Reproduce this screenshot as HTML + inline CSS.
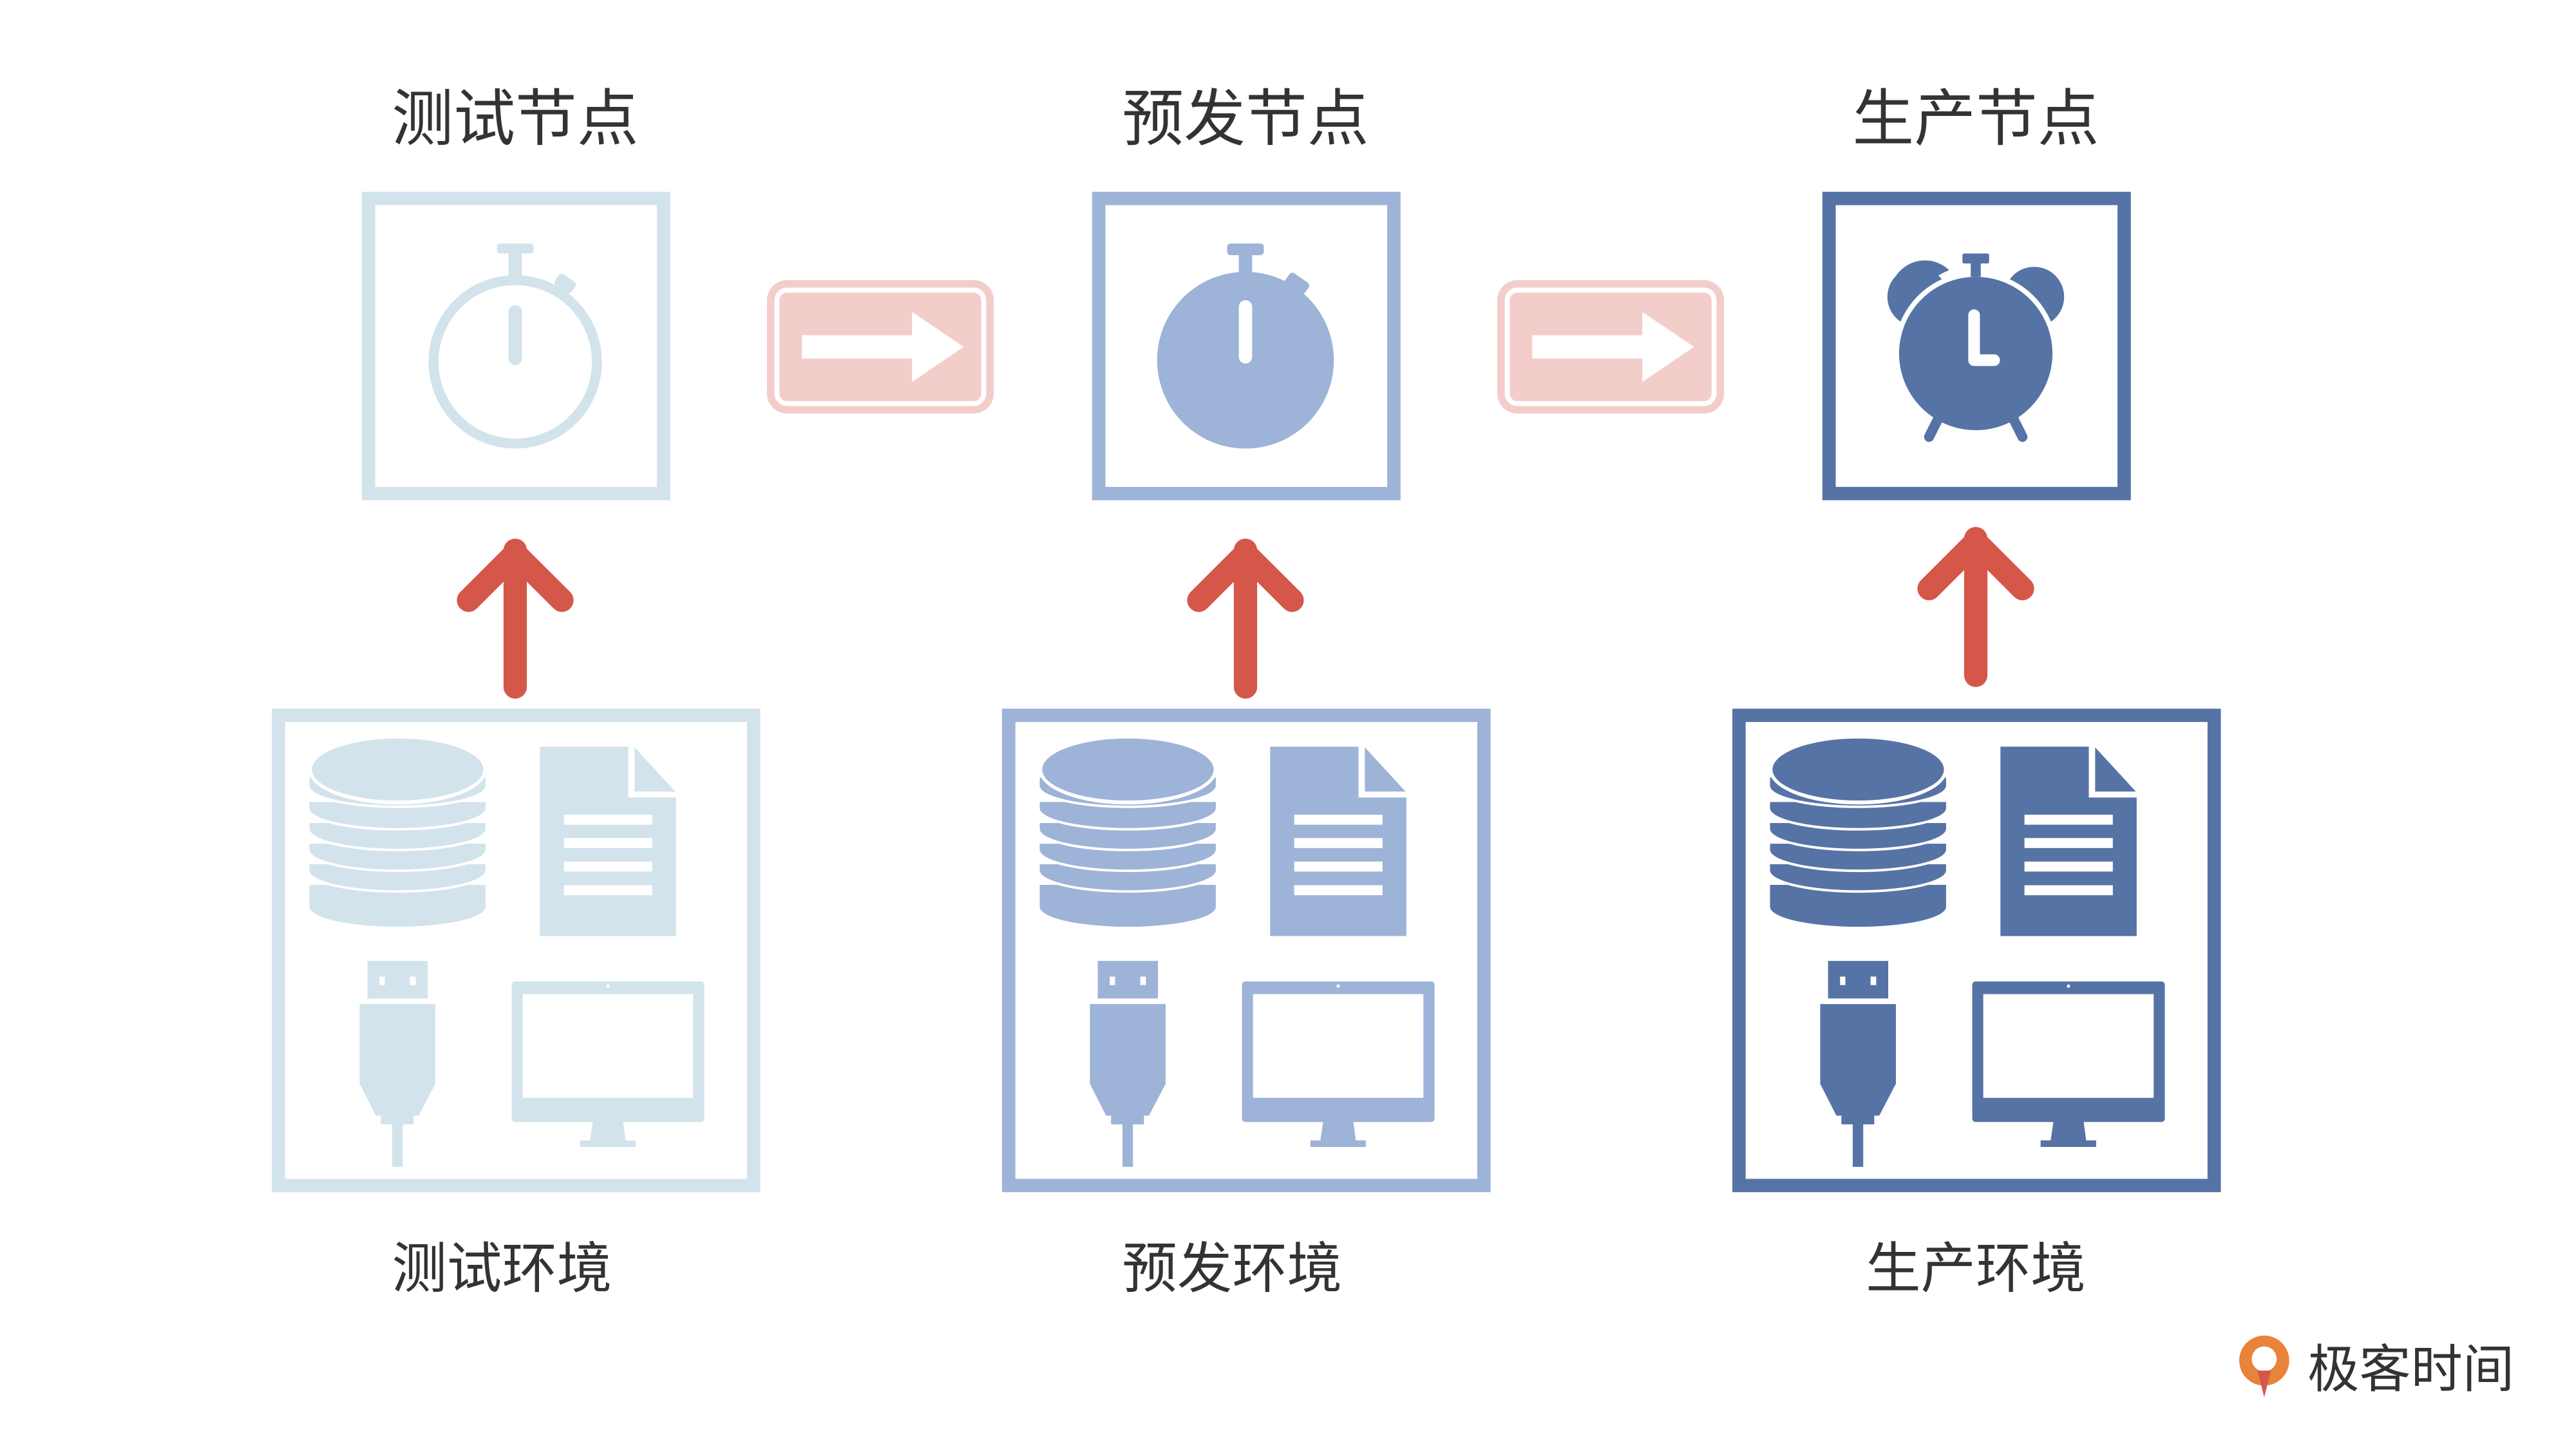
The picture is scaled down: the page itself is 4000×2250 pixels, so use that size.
<!DOCTYPE html>
<html><head><meta charset="utf-8">
<style>
html,body{margin:0;padding:0;background:#fff;width:4000px;height:2250px;overflow:hidden}
svg{display:block}
text{font-family:"Liberation Sans","Noto Sans CJK SC",sans-serif;fill:#333}
</style></head><body>
<svg width="4000" height="2250" viewBox="0 0 1545 869" xmlns="http://www.w3.org/2000/svg">
<defs>
  <g id="db">
    <path d="M185.6,530.7 V543.8 A52.8,12 0 0 0 291.2,543.8 V530.7Z"/>
    <path d="M185.6,521.9 A52.8,12 0 0 0 291.2,521.9" fill="none" stroke="#fff" stroke-width="3"/>
    <path d="M185.6,518.3 V521.9 A52.8,12 0 0 0 291.2,521.9 V518.3Z"/>
    <path d="M185.6,509.5 A52.8,12 0 0 0 291.2,509.5" fill="none" stroke="#fff" stroke-width="3"/>
    <path d="M185.6,506 V509.5 A52.8,12 0 0 0 291.2,509.5 V506Z"/>
    <path d="M185.6,497 A52.8,12 0 0 0 291.2,497" fill="none" stroke="#fff" stroke-width="3"/>
    <path d="M185.6,493.6 V497 A52.8,12 0 0 0 291.2,497 V493.6Z"/>
    <path d="M185.6,484.6 A52.8,12 0 0 0 291.2,484.6" fill="none" stroke="#fff" stroke-width="3"/>
    <path d="M185.6,481 V484.6 A52.8,12 0 0 0 291.2,484.6 V481Z"/>
    <path d="M185.6,471.1 A52.8,12 0 0 0 291.2,471.1" fill="none" stroke="#fff" stroke-width="3"/>
    <path d="M185.6,466.3 V471.1 A52.8,12 0 0 0 291.2,471.1 V466.3Z"/>
    <ellipse cx="238.5" cy="461.5" rx="53.5" ry="21" fill="#fff"/>
    <ellipse cx="238.5" cy="461.5" rx="51.4" ry="18.6"/>
  </g>
  <g id="doc">
    <path d="M323.8,447.8 H376.8 V478.3 H405.5 V561.4 H323.8Z"/>
    <path d="M380.6,448.2 L405,474.7 H380.6Z"/>
    <g fill="#fff">
      <rect x="338.2" y="488.6" width="53" height="6"/>
      <rect x="338.2" y="502.6" width="53" height="6"/>
      <rect x="338.2" y="516.7" width="53" height="6"/>
      <rect x="338.2" y="530.9" width="53" height="6"/>
    </g>
  </g>
  <g id="usb">
    <rect x="220.4" y="576.3" width="36.1" height="22.5"/>
    <rect x="227.6" y="585.7" width="3.2" height="5.1" fill="#fff"/>
    <rect x="245.9" y="585.7" width="3.4" height="5.1" fill="#fff"/>
    <path d="M215.7,602.2 H261.1 V650 L251.1,669.1 H248.1 V674.3 H241.5 V699.8 H235.2 V674.3 H228.4 V669.1 H225.4 L215.7,650Z"/>
  </g>
  <g id="mon">
    <rect x="306.9" y="588.6" width="115.5" height="84.3" rx="2"/>
    <rect x="313.5" y="596.2" width="102.2" height="62.2" fill="#fff"/>
    <path d="M355.7,672 H373.6 L375.2,683.9 H381.2 V687.9 H347.9 V683.9 H353.9Z"/>
    <circle cx="364.6" cy="591.4" r="1" fill="#fff"/>
  </g>
  <g id="harrow">
    <rect x="460" y="168" width="136" height="80" rx="12" fill="#f3cdca"/>
    <rect x="466" y="174" width="124" height="68" rx="6" fill="none" stroke="#fff" stroke-width="3"/>
    <path d="M481,201 h66 v-14 l31,21 l-31,21 v-14 h-66z" fill="#fff"/>
  </g>
  <g id="uparrow" stroke="#d4574a" stroke-width="14" stroke-linecap="round" stroke-linejoin="round" fill="none">
    <path d="M0,82 V0 M-28,30 L0,2 L28,30"/>
  </g>
</defs>

<text x="309" y="84" font-size="37" text-anchor="middle">测试节点</text>
<text x="747" y="84" font-size="37" text-anchor="middle">预发节点</text>
<text x="1185" y="84" font-size="37" text-anchor="middle">生产节点</text>

<rect x="221" y="119" width="177" height="177" fill="none" stroke="#d3e3ec" stroke-width="8"/>
<rect x="659" y="119" width="177" height="177" fill="none" stroke="#9db3d8" stroke-width="8"/>
<rect x="1097" y="119" width="177" height="177" fill="none" stroke="#5673a5" stroke-width="8"/>

<g fill="#d3e3ec">
  <circle cx="309" cy="217" r="49" fill="none" stroke="#d3e3ec" stroke-width="6"/>
  <rect x="298" y="146" width="22" height="6" rx="2"/>
  <rect x="305" y="150" width="8" height="16"/>
  <rect x="305" y="183" width="8" height="36" rx="4"/>
  <rect x="333" y="166" width="12" height="8" rx="2" transform="rotate(35 339 170)"/>
</g>
<g fill="#9db3d8">
  <circle cx="747" cy="216" r="53"/>
  <rect x="736" y="146" width="22" height="7" rx="2"/>
  <rect x="743" y="151" width="8" height="14"/>
  <rect x="771" y="166" width="14" height="9" rx="2" transform="rotate(35 778 170)"/>
  <rect x="743" y="180" width="8" height="38" rx="4" fill="#fff"/>
</g>
<g fill="#5673a5">
  <path d="M1140,192 A20,20 0 0 1 1169,162 A52,52 0 0 0 1140,192Z" />
  <circle cx="1150" cy="178" r="18"/>
  <circle cx="1220" cy="178" r="18"/>
  <circle cx="1185" cy="212" r="49" fill="#fff"/>
  <circle cx="1185" cy="212" r="46"/>
  <rect x="1177" y="152" width="16" height="6" rx="1"/>
  <rect x="1182" y="156" width="6" height="10"/>
  <path d="M1162,252 l-5,10" stroke="#5673a5" stroke-width="6" stroke-linecap="round"/>
  <path d="M1208,252 l5,10" stroke="#5673a5" stroke-width="6" stroke-linecap="round"/>
  <path d="M1184,189 v27 h12" stroke="#fff" stroke-width="7" stroke-linecap="round" stroke-linejoin="round" fill="none"/>
</g>

<use href="#harrow"/>
<use href="#harrow" transform="translate(438 0)"/>

<use href="#uparrow" transform="translate(309 330)"/>
<use href="#uparrow" transform="translate(747 330)"/>
<use href="#uparrow" transform="translate(1185 323)"/>

<g>
  <rect x="167" y="429" width="285" height="282" fill="none" stroke="#d3e3ec" stroke-width="8"/>
  <g fill="#d3e3ec"><use href="#db"/><use href="#doc"/><use href="#usb"/><use href="#mon"/></g>
</g>
<g transform="translate(438 0)">
  <rect x="167" y="429" width="285" height="282" fill="none" stroke="#9db3d8" stroke-width="8"/>
  <g fill="#9db3d8"><use href="#db"/><use href="#doc"/><use href="#usb"/><use href="#mon"/></g>
</g>
<g transform="translate(876 0)">
  <rect x="167" y="429" width="285" height="282" fill="none" stroke="#5673a5" stroke-width="8"/>
  <g fill="#5673a5"><use href="#db"/><use href="#doc"/><use href="#usb"/><use href="#mon"/></g>
</g>

<text x="301" y="772" font-size="33" text-anchor="middle">测试环境</text>
<text x="739" y="772" font-size="33" text-anchor="middle">预发环境</text>
<text x="1185" y="772" font-size="33" text-anchor="middle">生产环境</text>

<g>
  <circle cx="1358" cy="816" r="15" fill="#e8833a"/>
  <circle cx="1358" cy="815" r="7.5" fill="#fff"/>
  <path d="M1354,822 l4,16 l4,-16z" fill="#d4574a"/>
  <text x="1384" y="832" font-size="31" fill="#333">极客时间</text>
</g>
</svg>
</body></html>
